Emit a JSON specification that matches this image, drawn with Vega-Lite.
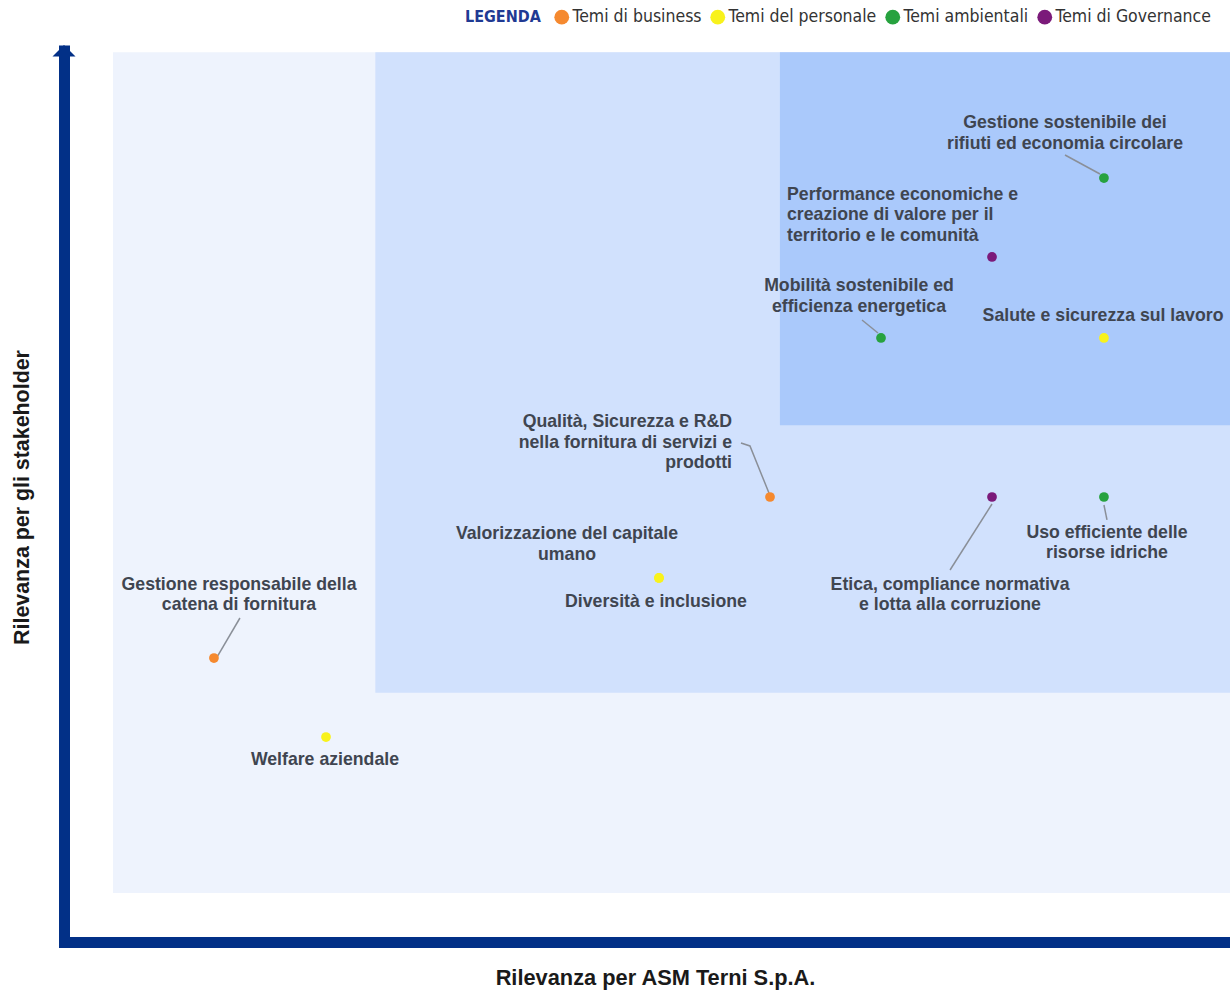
{
  "$schema": "https://vega.github.io/schema/vega-lite/v6.json",
  "autosize": {"type": "none"},
  "padding": {"top": 45, "left": 64, "right": 0, "bottom": 48},
  "width": 1166,
  "height": 897,
  "background": "#ffffff",
  "config": {"view": {"stroke": null}},
  "datasets": {
    "zones": [
      {"zone": "bassa", "x0": 4.2, "x1": 100, "y0": 5.46, "y1": 99.2},
      {"zone": "media", "x0": 26.7, "x1": 100, "y0": 27.8, "y1": 99.2},
      {"zone": "alta", "x0": 61.4, "x1": 100, "y0": 57.6, "y1": 99.2}
    ],
    "temi": [
      {"tema": "Gestione sostenibile dei rifiuti ed economia circolare", "categoria": "Temi ambientali", "asm": 89.19, "stakeholder": 85.17},
      {"tema": "Performance economiche e creazione di valore per il territorio e le comunità", "categoria": "Temi di Governance", "asm": 79.59, "stakeholder": 76.37},
      {"tema": "Mobilità sostenibile ed efficienza energetica", "categoria": "Temi ambientali", "asm": 70.07, "stakeholder": 67.34},
      {"tema": "Salute e sicurezza sul lavoro", "categoria": "Temi del personale", "asm": 89.19, "stakeholder": 67.34},
      {"tema": "Qualità, Sicurezza e R&D nella fornitura di servizi e prodotti", "categoria": "Temi di business", "asm": 60.55, "stakeholder": 49.61},
      {"tema": "Valorizzazione del capitale umano", "categoria": "Temi del personale", "asm": 51.03, "stakeholder": 40.58},
      {"tema": "Diversità e inclusione", "categoria": "Temi del personale", "asm": 51.03, "stakeholder": 40.58},
      {"tema": "Etica, compliance normativa e lotta alla corruzione", "categoria": "Temi di Governance", "asm": 79.59, "stakeholder": 49.61},
      {"tema": "Uso efficiente delle risorse idriche", "categoria": "Temi ambientali", "asm": 89.19, "stakeholder": 49.61},
      {"tema": "Gestione responsabile della catena di fornitura", "categoria": "Temi di business", "asm": 12.86, "stakeholder": 31.66},
      {"tema": "Welfare aziendale", "categoria": "Temi del personale", "asm": 22.47, "stakeholder": 22.85}
    ],
    "etichette": [
      {"testo": "Gestione sostenibile dei\nrifiuti ed economia circolare", "allineamento": "center", "lx": 85.85, "ly": 91.3},
      {"testo": "Performance economiche e\ncreazione di valore per il\nterritorio e le comunità", "allineamento": "left", "lx": 62.01, "ly": 83.28},
      {"testo": "Mobilità sostenibile ed\nefficienza energetica", "allineamento": "center", "lx": 68.18, "ly": 73.13},
      {"testo": "Salute e sicurezza sul lavoro", "allineamento": "center", "lx": 89.11, "ly": 69.8},
      {"testo": "Qualità, Sicurezza e R&D\nnella fornitura di servizi e\nprodotti", "allineamento": "right", "lx": 57.29, "ly": 57.97},
      {"testo": "Valorizzazione del capitale\numano", "allineamento": "center", "lx": 43.14, "ly": 45.48},
      {"testo": "Diversità e inclusione", "allineamento": "center", "lx": 50.77, "ly": 37.9},
      {"testo": "Etica, compliance normativa\ne lotta alla corruzione", "allineamento": "center", "lx": 75.99, "ly": 39.8},
      {"testo": "Uso efficiente delle\nrisorse idriche", "allineamento": "center", "lx": 89.45, "ly": 45.6},
      {"testo": "Gestione responsabile della\ncatena di fornitura", "allineamento": "center", "lx": 15.01, "ly": 39.8},
      {"testo": "Welfare aziendale", "allineamento": "center", "lx": 22.38, "ly": 20.3}
    ],
    "linee": [
      {"id": "a", "ordine": 1, "lx": 85.85, "ly": 87.74},
      {"id": "a", "ordine": 2, "lx": 88.85, "ly": 85.62},
      {"id": "b", "ordine": 1, "lx": 68.44, "ly": 69.34},
      {"id": "b", "ordine": 2, "lx": 69.81, "ly": 67.89},
      {"id": "c", "ordine": 1, "lx": 58.06, "ly": 55.63},
      {"id": "c", "ordine": 2, "lx": 58.83, "ly": 55.3},
      {"id": "c", "ordine": 3, "lx": 60.46, "ly": 50.06},
      {"id": "d", "ordine": 1, "lx": 50.86, "ly": 40.13},
      {"id": "d", "ordine": 2, "lx": 51.11, "ly": 40.9},
      {"id": "e", "ordine": 1, "lx": 79.59, "ly": 48.83},
      {"id": "e", "ordine": 2, "lx": 75.99, "ly": 41.47},
      {"id": "f", "ordine": 1, "lx": 89.19, "ly": 48.72},
      {"id": "f", "ordine": 2, "lx": 89.45, "ly": 47.05},
      {"id": "g", "ordine": 1, "lx": 15.09, "ly": 36.12},
      {"id": "g", "ordine": 2, "lx": 13.12, "ly": 31.77}
    ],
    "freccia": [{"lx": 0, "ly": 100}]
  },
  "layer": [
    {
      "data": {"name": "zones"},
      "mark": {"type": "rect"},
      "encoding": {
        "x": {"field": "x0", "type": "quantitative", "scale": {"domain": [0, 100], "nice": false, "zero": false},
          "axis": {"title": "Rilevanza per ASM Terni S.p.A.", "ticks": false, "labels": false, "grid": false,
            "domainColor": "#023087", "domainWidth": 11, "domainCap": "square",
            "titleFont": "Liberation Sans", "titleFontSize": 21.8, "titleFontWeight": "bold", "titleColor": "#1a1a1a",
            "titleX": 591, "titleY": 35, "titleBaseline": "middle", "titleAnchor": "middle", "titleAlign": "center"}},
        "x2": {"field": "x1"},
        "y": {"field": "y0", "type": "quantitative", "scale": {"domain": [0, 100], "nice": false, "zero": false},
          "axis": {"title": "Rilevanza per gli stakeholder", "ticks": false, "labels": false, "grid": false,
            "domainColor": "#023087", "domainWidth": 11, "domainCap": "butt",
            "titleFont": "Liberation Sans", "titleFontSize": 21.4, "titleFontWeight": "bold", "titleColor": "#1a1a1a",
            "titleX": -42, "titleY": 452, "titleBaseline": "middle", "titleAngle": -90, "titleAlign": "center"}},
        "y2": {"field": "y1"},
        "fill": {"field": "zone", "type": "nominal", "scale": {"domain": ["bassa", "media", "alta"], "range": ["#eef3fd", "#d1e1fd", "#aac9fb"]}, "legend": null}
      }
    },
    {
      "data": {"name": "linee"},
      "mark": {"type": "line", "color": "#8a8f98", "strokeWidth": 1.5},
      "encoding": {
        "x": {"field": "lx", "type": "quantitative"},
        "y": {"field": "ly", "type": "quantitative"},
        "detail": {"field": "id"},
        "order": {"field": "ordine"}
      }
    },
    {
      "data": {"name": "temi"},
      "mark": {"type": "circle", "size": 95, "opacity": 1},
      "encoding": {
        "x": {"field": "asm", "type": "quantitative"},
        "y": {"field": "stakeholder", "type": "quantitative"},
        "color": {"field": "categoria", "type": "nominal",
          "scale": {"domain": ["Temi di business", "Temi del personale", "Temi ambientali", "Temi di Governance"], "range": ["#f5892f", "#f8f21c", "#27a23f", "#7b1a7a"]},
          "legend": {"title": "LEGENDA", "orient": "none", "direction": "horizontal", "legendX": 401, "legendY": -37,
            "titleOrient": "left", "titleFont": "DejaVu Sans Condensed", "titleFontSize": 16, "titleFontWeight": "bold", "titleColor": "#1f3a93", "titlePadding": 12, "titleBaseline": "middle",
            "labelFont": "DejaVu Sans Condensed", "labelFontSize": 17.5, "labelColor": "#333333", "labelOffset": 2,
            "symbolType": "circle", "symbolSize": 220, "symbolStrokeWidth": 0, "symbolOpacity": 1, "columnPadding": 7, "padding": 0}}
      }
    },
    {
      "data": {"name": "etichette"},
      "transform": [{"filter": "datum.allineamento === 'center'"}],
      "mark": {"type": "text", "align": "center", "baseline": "middle", "lineBreak": "\n", "lineHeight": 20.5, "font": "Liberation Sans", "fontSize": 17.7, "fontWeight": "bold", "color": "#3f4550"},
      "encoding": {
        "x": {"field": "lx", "type": "quantitative"},
        "y": {"field": "ly", "type": "quantitative"},
        "text": {"field": "testo"}
      }
    },
    {
      "data": {"name": "etichette"},
      "transform": [{"filter": "datum.allineamento === 'left'"}],
      "mark": {"type": "text", "align": "left", "baseline": "middle", "lineBreak": "\n", "lineHeight": 20.5, "font": "Liberation Sans", "fontSize": 17.7, "fontWeight": "bold", "color": "#3f4550"},
      "encoding": {
        "x": {"field": "lx", "type": "quantitative"},
        "y": {"field": "ly", "type": "quantitative"},
        "text": {"field": "testo"}
      }
    },
    {
      "data": {"name": "etichette"},
      "transform": [{"filter": "datum.allineamento === 'right'"}],
      "mark": {"type": "text", "align": "right", "baseline": "middle", "lineBreak": "\n", "lineHeight": 20.5, "font": "Liberation Sans", "fontSize": 17.7, "fontWeight": "bold", "color": "#3f4550"},
      "encoding": {
        "x": {"field": "lx", "type": "quantitative"},
        "y": {"field": "ly", "type": "quantitative"},
        "text": {"field": "testo"}
      }
    },
    {
      "data": {"name": "freccia"},
      "mark": {"type": "point", "shape": "M -1 1 L 0 0 L 1 1 Z", "size": 529, "filled": true, "color": "#023087", "opacity": 1},
      "encoding": {
        "x": {"field": "lx", "type": "quantitative"},
        "y": {"field": "ly", "type": "quantitative"}
      }
    }
  ]
}
